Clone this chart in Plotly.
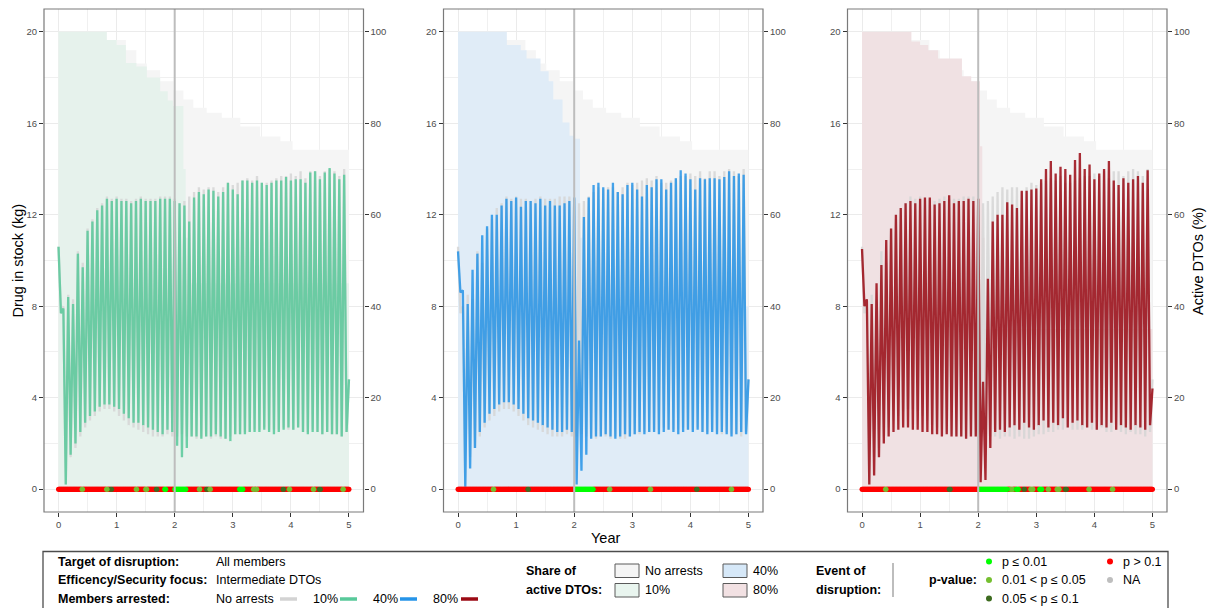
import numpy as np
import plotly.graph_objects as go

FIG_W, FIG_H = 1210, 608
FONT = "Liberation Sans, Arial, sans-serif"

# ---------------------------------------------------------------------------
# Drug in stock (kg): value at the start of each month (restock peak, index 0 is
# t=0 and index 60 is the final value at t=5) and the low point reached in the
# middle of each month.
# ---------------------------------------------------------------------------
no_arrests_peaks = [
    10.6, 8.0, 8.5, 8.3, 10.4, 9.9, 11.4, 11.8, 12.3, 12.5,
    12.8, 12.7, 12.8, 12.7, 12.7, 12.6, 12.7, 12.8, 12.7, 12.7,
    12.7, 12.8, 12.8, 12.8, 12.7, 12.5, 12.6, 12.8, 13.0, 13.2,
    13.1, 13.2, 13.2, 13.0, 13.2, 13.4, 13.3, 13.4, 13.5, 13.6,
    13.5, 13.7, 13.4, 13.4, 13.5, 13.6, 13.7, 13.7, 13.8, 13.7,
    13.9, 13.6, 13.9, 13.9, 13.7, 13.9, 14.0, 13.9, 13.7, 14.0,
    4.8,
]
no_arrests_troughs = [
    7.7, 0.2, 1.4, 1.8, 2.3, 2.7, 3.0, 3.2, 3.4, 3.5,
    3.5, 3.4, 3.2, 3.0, 2.8, 2.7, 2.6, 2.5, 2.4, 2.3,
    2.3, 2.3, 2.4, 2.3, 2.3, 2.4, 2.3, 2.3, 2.2, 2.3,
    2.3, 2.2, 2.3, 2.2, 2.2, 2.3, 2.4, 2.4, 2.5, 2.5,
    2.6, 2.6, 2.7, 2.6, 2.6, 2.6, 2.7, 2.6, 2.6, 2.7,
    2.5, 2.5, 2.6, 2.5, 2.4, 2.5, 2.4, 2.4, 2.3, 2.5,
]

arrest10_peaks = [
    10.6, 7.9, 8.4, 8.1, 10.3, 9.7, 11.3, 11.7, 12.2, 12.4,
    12.7, 12.6, 12.7, 12.6, 12.6, 12.5, 12.6, 12.7, 12.6, 12.6,
    12.6, 12.7, 12.7, 12.7, 12.6, 12.5, 12.4, 11.7, 12.75, 13.0,
    12.9, 13.1, 13.05, 12.8, 13.0, 13.4, 13.1, 12.9, 13.5, 13.5,
    13.4, 13.5, 13.4, 13.3, 13.4, 13.5, 13.5, 13.65, 13.5, 13.55,
    13.55, 13.4, 13.85, 13.9, 13.55, 13.85, 14.05, 13.8, 13.55, 13.75,
    4.8,
]
arrest10_troughs = [
    7.7, 0.2, 1.5, 2.0, 2.5, 2.9, 3.2, 3.4, 3.6, 3.7,
    3.7, 3.6, 3.5, 3.3, 3.1, 2.9, 2.9, 2.8, 2.7, 2.6,
    2.5, 2.4, 2.6, 2.5, 1.9, 1.4, 1.8, 2.3, 2.3, 2.2,
    2.3, 2.3, 2.4, 2.3, 2.2, 2.1, 2.4, 2.4, 2.4, 2.5,
    2.5, 2.5, 2.6, 2.5, 2.4, 2.5, 2.6, 2.7, 2.6, 2.7,
    2.5, 2.4, 2.5, 2.5, 2.4, 2.5, 2.4, 2.4, 2.3, 2.5,
]

arrest40_peaks = [
    10.4, 8.7, 8.1, 9.6, 10.3, 11.1, 11.5, 12.0, 12.0, 12.4,
    12.7, 12.6, 12.75, 12.35, 12.6, 12.6, 12.5, 12.7, 12.4, 12.6,
    12.4, 12.4, 12.5, 12.6, 12.75, 6.5, 11.9, 12.75, 13.3, 13.4,
    13.2, 13.1, 13.4, 13.0, 12.9, 13.3, 13.4, 13.1, 12.8, 13.3,
    13.2, 13.55, 13.55, 13.1, 13.4, 13.6, 13.95, 13.8, 13.55, 13.1,
    13.6, 13.55, 13.6, 13.6, 13.55, 13.65, 13.9, 13.7, 13.8, 13.75,
    4.8,
]
arrest40_troughs = [
    8.6, 0.1, 0.9, 1.8, 2.5, 2.9, 3.3, 3.5, 3.7, 3.8,
    3.8, 3.7, 3.5, 3.3, 3.1, 3.0, 2.9, 2.8, 2.7, 2.6,
    2.5, 2.5, 2.6, 2.5, 0.2, 0.8, 1.5, 2.2, 2.3, 2.3,
    2.4, 2.3, 2.2, 2.3, 2.4, 2.3, 2.4, 2.5, 2.4, 2.5,
    2.5, 2.4, 2.5, 2.6, 2.5, 2.4, 2.5, 2.6, 2.5, 2.6,
    2.5, 2.4, 2.5, 2.4, 2.5, 2.4, 2.3, 2.4, 2.5, 2.4,
]

arrest80_peaks = [
    10.5, 8.3, 8.1, 9.0, 9.8, 10.9, 11.4, 12.0, 12.3, 12.5,
    12.6, 12.5, 12.7, 12.75, 12.75, 12.45, 12.5, 12.6, 12.85, 12.5,
    12.6, 12.6, 12.7, 12.6, 12.7, 4.7, 9.2, 11.7, 12.0, 12.0,
    12.55, 12.45, 12.3, 13.05, 13.05, 13.1, 13.15, 13.55, 14.0, 14.35,
    13.8, 14.1, 14.0, 13.75, 14.4, 14.7, 14.0, 14.2, 13.55, 13.8,
    14.0, 14.35, 13.5, 13.3, 13.6, 13.4, 13.55, 13.7, 13.4, 13.95,
    4.4,
]
arrest80_troughs = [
    8.0, 0.2, 0.6, 1.4, 2.0, 2.3, 2.5, 2.6, 2.7, 2.7,
    2.6, 2.6, 2.5, 2.5, 2.4, 2.4, 2.3, 2.4, 2.3, 2.3,
    2.3, 2.2, 2.3, 2.3, 0.3, 0.4, 1.8, 2.5, 2.6, 2.5,
    2.7, 2.8, 2.6, 2.9, 2.7, 2.6, 2.8, 3.0, 2.7, 2.9,
    2.8, 3.1, 2.7, 2.9, 3.0, 2.8, 2.7, 2.9, 2.6, 2.8,
    2.7, 2.9, 2.6, 2.8, 2.7, 2.6, 2.8, 2.7, 2.6, 2.8,
]

# ---------------------------------------------------------------------------
# Share of active DTOs (%): step changes (year, share)
# ---------------------------------------------------------------------------
share_none_t = [0, 0.83, 1.16, 1.34, 1.52, 1.75, 1.98, 2.15, 2.32, 2.55, 2.81, 3.13, 3.47, 3.82, 4.03, 5]
share_none_v = [100, 98.2, 96.0, 93.1, 91.6, 89.2, 87.2, 85.2, 83.4, 82.3, 81.2, 79.3, 77.1, 76.1, 74.2, 74.2]

share10_t = [0, 0.83, 1.0, 1.16, 1.34, 1.52, 1.75, 1.88, 1.97, 2.15, 2.19, 2.23, 5]
share10_v = [100, 98.2, 97.1, 93.2, 92.4, 90.0, 87.0, 85.0, 83.8, 70.0, 55.0, 45.0, 45.0]

share40_t = [0, 0.84, 1.08, 1.18, 1.42, 1.56, 1.64, 1.80, 1.92, 2.0, 2.1, 2.14, 5]
share40_v = [100, 97.1, 96.0, 94.2, 91.4, 89.2, 85.2, 80.2, 77.3, 76.6, 55.0, 40.0, 40.0]

share80_t = [0, 0.85, 1.0, 1.14, 1.31, 1.72, 1.88, 2.03, 2.07, 2.11, 5]
share80_v = [100, 97.9, 97.1, 96.0, 94.2, 90.3, 89.2, 75.0, 55.0, 35.0, 35.0]

# ---------------------------------------------------------------------------
# Event-of-disruption p-values along the time line: periods that are not
# p > 0.1.  Codes: g = p <= 0.01, m = 0.01 < p <= 0.05, d = 0.05 < p <= 0.1
# ---------------------------------------------------------------------------
pvalue_periods_10 = [
    (0.40, 0.42, "m"), (0.82, 0.84, "m"), (0.90, 0.92, "d"), (1.33, 1.35, "m"),
    (1.50, 1.52, "m"), (1.68, 1.70, "d"), (1.82, 1.85, "g"), (2.00, 2.20, "g"),
    (2.42, 2.44, "m"), (2.54, 2.56, "d"), (2.60, 2.62, "m"), (3.11, 3.18, "g"),
    (3.35, 3.37, "m"), (3.40, 3.42, "m"), (3.86, 3.88, "d"), (3.97, 3.99, "m"),
    (4.38, 4.40, "m"), (4.49, 4.51, "d"), (4.89, 4.91, "m"),
]
pvalue_periods_40 = [
    (0.60, 0.62, "m"), (1.20, 1.22, "d"), (2.02, 2.33, "g"), (2.60, 2.62, "m"),
    (3.30, 3.32, "m"), (4.10, 4.12, "d"), (4.70, 4.72, "m"),
]
pvalue_periods_80 = [
    (0.40, 0.42, "m"), (1.50, 1.52, "d"), (2.02, 2.50, "g"), (2.55, 2.60, "m"),
    (2.65, 2.70, "g"), (2.78, 2.80, "d"), (2.90, 2.95, "m"), (3.05, 3.10, "g"),
    (3.20, 3.22, "m"), (3.35, 3.40, "m"), (3.50, 3.52, "d"), (3.90, 3.92, "m"),
    (4.30, 4.32, "m"),
]

DISRUPTION_YEAR = 2
year_ticks = [0, 1, 2, 3, 4, 5]
stock_ticks = [0, 4, 8, 12, 16, 20]
share_ticks = [0, 20, 40, 60, 80, 100]

# ---------------------------------------------------------------------------
# Styling
# ---------------------------------------------------------------------------
LINE_NONE = "#d6d6d6"
LINE_W = 2.3
scenarios = [
    dict(peaks=arrest10_peaks, troughs=arrest10_troughs, line="#58c99a",
         share_t=share10_t, share_v=share10_v, fill="#e6f2ec", pvals=pvalue_periods_10),
    dict(peaks=arrest40_peaks, troughs=arrest40_troughs, line="#2694e8",
         share_t=share40_t, share_v=share40_v, fill="#e0ecf7", pvals=pvalue_periods_40),
    dict(peaks=arrest80_peaks, troughs=arrest80_troughs, line="#9b0a14",
         share_t=share80_t, share_v=share80_v, fill="#f0e1e3", pvals=pvalue_periods_80),
]
PCOLORS = {"r": "#ff0000", "d": "#3d6b1f", "m": "#74bf2f", "g": "#00ff00"}

PANEL_X = [(44, 363.5), (443.5, 763), (847.5, 1167)]
PANEL_TOP, PANEL_BOTTOM = 9, 512


def fx(px):
    return px / FIG_W


def fy(py):
    return 1 - py / FIG_H


# half-month time grid: even points are month starts, odd points mid-month
time_grid = np.arange(121) / 24.0
pv_grid = np.arange(0, 5 * 104 + 1) / 104.0


def stock_path(peaks, troughs):
    y = np.empty(len(peaks) + len(troughs))
    y[0::2] = peaks
    y[1::2] = troughs
    return y


def pvalue_classes(periods):
    cls = np.array(["r"] * len(pv_grid), dtype=object)
    for a, b, c in periods:
        cls[(pv_grid >= a - 1e-9) & (pv_grid <= b + 1e-9)] = c
    return cls


fig = go.Figure()
layout = {}
shapes = []
annotations = []

tick_font = dict(family=FONT, size=9.5, color="#4d4d4d")

for k, sc in enumerate(scenarios, start=1):
    xa, ys, yk = f"x{k}", f"y{k}", f"y{k + 3}"
    x0, x1 = PANEL_X[k - 1]
    dom_x = [fx(x0), fx(x1)]
    dom_y = [fy(PANEL_BOTTOM), fy(PANEL_TOP)]

    layout[f"xaxis{k}"] = dict(
        domain=dom_x, range=[-0.25, 5.25], anchor=ys, tickvals=year_ticks,
        ticks="outside", ticklen=4, tickcolor="#333333", tickwidth=1,
        tickfont=tick_font, showgrid=True, gridcolor="#ebebeb", gridwidth=1,
        minor=dict(dtick=0.5, tick0=0, showgrid=True, gridcolor="#f0f0f0", gridwidth=1),
        zeroline=False, showline=False, fixedrange=True,
    )
    layout[f"yaxis{k}"] = dict(
        domain=dom_y, range=[-5, 105], anchor=xa, side="right", tickvals=share_ticks,
        ticks="outside", ticklen=4, tickcolor="#333333", tickwidth=1,
        tickfont=tick_font, showgrid=True, gridcolor="#ebebeb", gridwidth=1,
        minor=dict(dtick=10, tick0=0, showgrid=True, gridcolor="#f0f0f0", gridwidth=1),
        zeroline=False, showline=False, fixedrange=True,
    )
    layout[f"yaxis{k + 3}"] = dict(
        overlaying=ys, anchor=xa, side="left", range=[-1, 21], tickvals=stock_ticks,
        ticks="outside", ticklen=4, tickcolor="#333333", tickwidth=1,
        tickfont=tick_font, showgrid=False, zeroline=False, showline=False,
        fixedrange=True,
    )

    # share of active DTOs (right axis)
    fig.add_trace(go.Scatter(
        x=share_none_t, y=share_none_v, mode="lines",
        line=dict(width=0, shape="hv"), fill="tozeroy", fillcolor="#f5f5f5",
        xaxis=xa, yaxis=ys, hoverinfo="skip", showlegend=False,
    ))
    fig.add_trace(go.Scatter(
        x=sc["share_t"], y=sc["share_v"], mode="lines",
        line=dict(width=0, shape="hv"), fill="tozeroy", fillcolor=sc["fill"],
        xaxis=xa, yaxis=ys, hoverinfo="skip", showlegend=False,
    ))

    # drug in stock (left axis)
    fig.add_trace(go.Scatter(
        x=time_grid, y=stock_path(no_arrests_peaks, no_arrests_troughs), mode="lines",
        line=dict(color=LINE_NONE, width=LINE_W), opacity=0.85,
        xaxis=xa, yaxis=yk, hoverinfo="skip", showlegend=False,
    ))
    fig.add_trace(go.Scatter(
        x=time_grid, y=stock_path(sc["peaks"], sc["troughs"]), mode="lines",
        line=dict(color=sc["line"], width=LINE_W), opacity=0.85,
        xaxis=xa, yaxis=yk, hoverinfo="skip", showlegend=False,
    ))

    # p-value markers on the time line
    cls = pvalue_classes(sc["pvals"])
    for code in ["r", "d", "m", "g"]:
        mask = cls == code
        if not mask.any():
            continue
        fig.add_trace(go.Scatter(
            x=pv_grid[mask], y=np.zeros(mask.sum()), mode="markers",
            marker=dict(color=PCOLORS[code], size=5, line=dict(width=0)),
            xaxis=xa, yaxis=yk, hoverinfo="skip", showlegend=False, cliponaxis=False,
        ))

    # event of disruption
    shapes.append(dict(
        type="line", xref=xa, yref="paper", x0=DISRUPTION_YEAR, x1=DISRUPTION_YEAR,
        y0=fy(PANEL_BOTTOM), y1=fy(PANEL_TOP), line=dict(color="#bdbdbd", width=2),
        layer="above",
    ))
    # panel border
    shapes.append(dict(
        type="rect", xref="paper", yref="paper", x0=fx(x0), x1=fx(x1),
        y0=fy(PANEL_BOTTOM), y1=fy(PANEL_TOP), line=dict(color="#7a7a7a", width=1.2),
        fillcolor="rgba(0,0,0,0)", layer="above",
    ))

# axis titles
title_font = dict(family=FONT, size=14.5, color="#000000")
annotations += [
    dict(text="Drug in stock (kg)", x=fx(17.5), y=fy(261), xref="paper", yref="paper",
         textangle=-90, showarrow=False, font=title_font, xanchor="center", yanchor="middle"),
    dict(text="Active DTOs (%)", x=fx(1198), y=fy(261), xref="paper", yref="paper",
         textangle=-90, showarrow=False, font=title_font, xanchor="center", yanchor="middle"),
    dict(text="Year", x=fx(605), y=fy(538), xref="paper", yref="paper",
         showarrow=False, font=title_font, xanchor="center", yanchor="middle"),
]

# ---------------------------------------------------------------------------
# Key box below the panels
# ---------------------------------------------------------------------------
key_font = dict(family=FONT, size=12.5, color="#000000")


def key_text(text, x, y, anchor="left"):
    annotations.append(dict(
        text=text, x=fx(x), y=fy(y), xref="paper", yref="paper", showarrow=False,
        font=key_font, xanchor=anchor, yanchor="middle",
    ))


def key_line(x0, x1, y, color, width=3.5):
    shapes.append(dict(type="line", xref="paper", yref="paper", x0=fx(x0), x1=fx(x1),
                       y0=fy(y), y1=fy(y), line=dict(color=color, width=width)))


def key_box(x0, x1, y0, y1, color):
    shapes.append(dict(type="rect", xref="paper", yref="paper", x0=fx(x0), x1=fx(x1),
                       y0=fy(y1), y1=fy(y0), fillcolor=color,
                       line=dict(color="#5a5a5a", width=1)))


def key_dot(x, y, color, r=3):
    shapes.append(dict(type="circle", xref="paper", yref="paper", x0=fx(x - r), x1=fx(x + r),
                       y0=fy(y + r), y1=fy(y - r), fillcolor=color, line=dict(width=0)))


shapes.append(dict(type="rect", xref="paper", yref="paper", x0=fx(43), x1=fx(1168),
                   y0=fy(612), y1=fy(551.5), line=dict(color="#4d4d4d", width=1.3),
                   fillcolor="rgba(0,0,0,0)"))

key_text("<b>Target of disruption:</b>", 56, 562)
key_text("All members", 214, 562)
key_text("<b>Efficency/Security focus:</b>", 56, 580)
key_text("Intermediate DTOs", 214, 580)
key_text("<b>Members arrested:</b>", 56, 599)
key_text("No arrests", 214, 599)
key_line(280, 297, 599, "#d3d3d3")
key_text("10%", 311, 599)
key_line(340, 357, 599, "#58c99a")
key_text("40%", 371, 599)
key_line(400, 417, 599, "#2694e8")
key_text("80%", 431, 599)
key_line(461, 478, 599, "#9b0a14")

key_text("<b>Share of</b>", 524, 571)
key_text("<b>active DTOs:</b>", 524, 590)
key_box(615, 639, 564, 577.5, "#f5f5f5")
key_text("No arrests", 643, 571)
key_box(615, 639, 583.5, 597, "#e9f5ef")
key_text("10%", 643, 590)
key_box(723, 747, 564, 577.5, "#d6e8f8")
key_text("40%", 751, 571)
key_box(723, 747, 583.5, 597, "#f2e1e3")
key_text("80%", 751, 590)

key_text("<b>Event of</b>", 814, 571)
key_text("<b>disruption:</b>", 814, 590)
shapes.append(dict(type="line", xref="paper", yref="paper", x0=fx(893), x1=fx(893),
                   y0=fy(597), y1=fy(563), line=dict(color="#bdbdbd", width=2)))

key_text("<b>p-value:</b>", 979, 580, anchor="right")
key_dot(989, 561.5, "#00ff00")
key_text("p ≤ 0.01", 1000, 561.5)
key_dot(989, 580, "#74bf2f")
key_text("0.01 < p ≤ 0.05", 1000, 580)
key_dot(989, 598.5, "#3d6b1f")
key_text("0.05 < p ≤ 0.1", 1000, 598.5)
key_dot(1110, 561.5, "#ff0000")
key_text("p > 0.1", 1121, 561.5)
key_dot(1110, 580, "#bebebe")
key_text("NA", 1121, 580)

fig.update_layout(
    width=FIG_W, height=FIG_H, margin=dict(l=0, r=0, t=0, b=0),
    paper_bgcolor="white", plot_bgcolor="white", showlegend=False,
    font=dict(family=FONT), shapes=shapes, annotations=annotations, **layout,
)

fig.write_html("out.html")
